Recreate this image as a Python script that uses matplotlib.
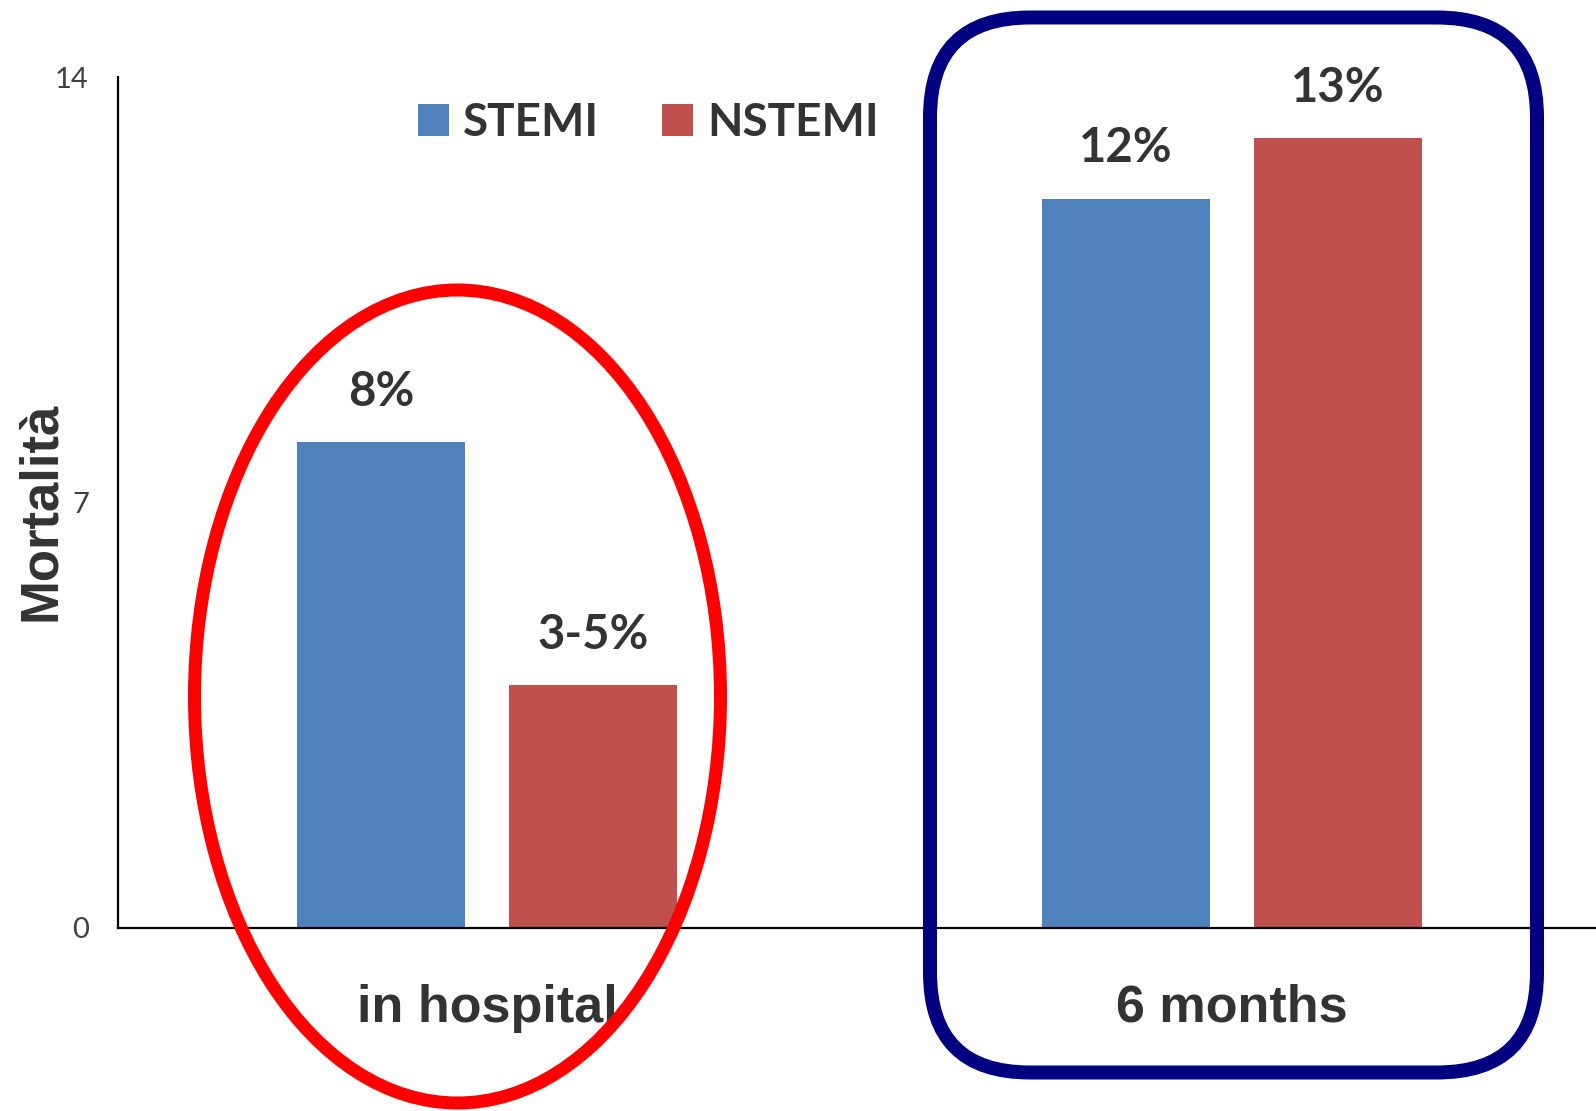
import matplotlib
matplotlib.use("Agg")
import matplotlib.pyplot as plt
from matplotlib.patches import Ellipse, FancyBboxPatch
import numpy as np

# Data
categories = ["in hospital", "6 months"]
series_names = ["STEMI", "NSTEMI"]
stemi = [8, 12]
nstemi = [4, 13]
stemi_labels = ["8%", "12%"]
nstemi_labels = ["3-5%", "13%"]
yticks = [0, 7, 14]

BLUE = "#4F81BD"
RED = "#C0504D"
TEXT = "#333333"

W, H, DPI = 1596, 1111, 100
fig = plt.figure(figsize=(W / DPI, H / DPI), dpi=DPI)
ax = fig.add_axes([118 / W, (H - 928) / H, 1 - 118 / W, (928 - 77) / H])

x = np.arange(len(categories))
width = 0.2257
offset = 0.1424
b1 = ax.bar(x - offset, stemi, width, color=BLUE, label=series_names[0], zorder=2)
b2 = ax.bar(x + offset, nstemi, width, color=RED, label=series_names[1], zorder=2)

label_font = dict(family="Lato", weight="bold", size=34, color=TEXT)
for bars, labels in ((b1, stemi_labels), (b2, nstemi_labels)):
    for rect, lab in zip(bars, labels):
        ax.annotate(lab, (rect.get_x() + rect.get_width() / 2, rect.get_height()),
                    xytext=(0, 26), textcoords="offset points",
                    ha="center", va="baseline", **label_font)

ax.set_xlim(-0.496, 1.489)
ax.set_ylim(0, 14)
ax.set_yticks(yticks)
ax.set_yticklabels([str(v) for v in yticks], family="Lato", size=21, color="#404040")
ax.tick_params(axis="y", length=0, pad=21)
ax.set_xticks(x)
ax.set_xticklabels(categories, family="Liberation Sans", weight="bold", size=37.5, color=TEXT)
ax.tick_params(axis="x", length=0, pad=40)

for s in ("top", "right"):
    ax.spines[s].set_visible(False)
for s in ("left", "bottom"):
    ax.spines[s].set_linewidth(1.6)
    ax.spines[s].set_color("black")

fig.text(41 / W, 1 - 511 / H, "Mortalità", rotation=90, ha="center", va="center",
         family="Liberation Sans", weight="bold", size=38, color=TEXT)

leg = ax.legend(loc="center left", bbox_to_anchor=(418 / W, 1 - 123 / H),
                bbox_transform=fig.transFigure, ncol=2, frameon=False,
                prop=dict(family="Lato", weight="bold", size=33),
                handlelength=0.68, handleheight=0.68, handletextpad=0.3,
                columnspacing=1.38, borderpad=0, borderaxespad=0)
for t in leg.get_texts():
    t.set_color(TEXT)

# Highlight shapes, in figure pixel coordinates
ell = Ellipse((457.5, H - 696.5), 526, 813, fill=False, edgecolor="#FF0000",
              linewidth=13 * 72 / DPI, transform=None, clip_on=False, zorder=5)
fig.add_artist(ell)

box = FancyBboxPatch((930, H - 1072.5), 607, 1055,
                     boxstyle="round,pad=0,rounding_size=100", fill=False,
                     edgecolor="#000080", linewidth=14 * 72 / DPI,
                     transform=None, clip_on=False, zorder=5)
fig.add_artist(box)

fig.savefig("out.png", dpi=DPI, facecolor="white")
